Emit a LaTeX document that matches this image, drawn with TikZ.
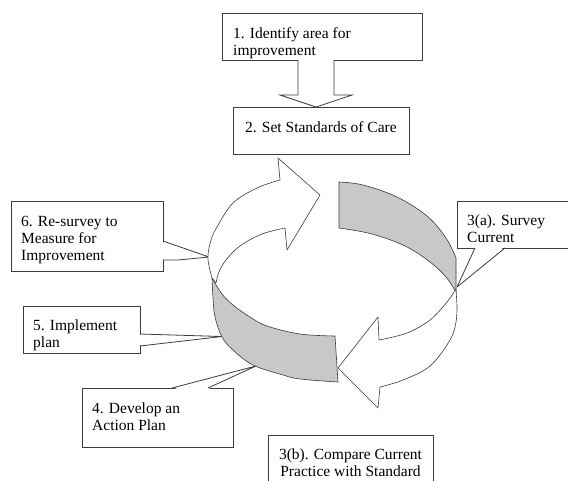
\documentclass[tikz,border=0pt]{standalone}
\usepackage{fontspec}
\setmainfont{Liberation Serif}
\definecolor{ringgray}{RGB}{200,200,200}
\definecolor{edge}{RGB}{60,60,60}
\begin{document}
\begin{tikzpicture}[x=1pt,y=-1pt,
  box/.style={draw=edge, line width=0.8pt, fill=white, inner sep=0pt, anchor=north west},
  txt/.style={inner sep=0pt, anchor=north west, align=left, font=\fontsize{15.5}{16.8}\selectfont},
  ring/.style={draw=edge, line width=0.6pt, line join=round},
  callout/.style={draw=edge, line width=0.8pt, line join=round},
  hole/.style={fill=white},
  blockarrow/.style={draw=edge, line width=0.8pt, fill=white, line join=miter}
]
\useasboundingbox (0,0) rectangle (568,480);

% ---------- boxes ----------
\node[box, minimum width=200pt, minimum height=47pt] (b1) at (222,13) {};
\node[box, minimum width=176pt, minimum height=47pt] (b2) at (233,107) {};
\node[box, minimum width=152pt, minimum height=70pt] (b6) at (11,201) {};
\node[box, minimum width=117pt, minimum height=47pt] (b5) at (23,306) {};
\node[box, minimum width=151pt, minimum height=59pt] (b4) at (82,388) {};
\node[box, minimum width=116pt, minimum height=47pt] (b3a) at (457,201) {};
\node[box, minimum width=165pt, minimum height=52pt] (b3b) at (268,435) {};

% ---------- block arrow 1 -> 2 ----------
\draw[blockarrow] (298,60) -- (298,95) -- (280,95) -- (316,107) -- (352,95) -- (334,95) -- (334,60);

% ---------- callout pointers ----------
\coordinate (t6) at (209,257);
\fill[hole] (161.5,241.6) -- (t6) -- (178,259.6) -- (161.5,259.6) -- cycle;
\draw[callout] (163,241) -- (t6) -- (178,260) -- (163,260);

\coordinate (t5) at (222,336.5);
\fill[hole] (138.5,334.6) -- (t5) -- (138.5,345.4) -- cycle;
\draw[callout] (140,334) -- (t5) -- (140,346);

\coordinate (t4) at (256,366);
\fill[hole] (172.6,389.5) -- (t4) -- (207.4,389.5) -- cycle;
\draw[callout] (172,388) -- (t4) -- (208,388);

\coordinate (t3a) at (457,287);
\fill[hole] (475.6,246.5) -- (t3a) -- (504.4,246.5) -- cycle;
\draw[callout] (475,248) -- (t3a) -- (505,248);

% ---------- ring ----------
% back gray band
\filldraw[ring, fill=ringgray]
  plot[smooth, tension=0.6] coordinates {(339,182) (363,185) (397,197) (427,216) (446,238) (456,258)}
  -- (456,292)
  -- plot[smooth, tension=0.6] coordinates {(456,292) (446,277) (430,262) (405,246) (372,234) (339,228)}
  -- cycle;
% lower-right white arrow
\filldraw[ring, fill=white]
  (456,289) -- (457,305)
  -- plot[smooth, tension=0.6] coordinates {(457,305) (456,322) (450,340) (430,366) (403,380) (380,387)}
  -- (378,408) -- (338,368) -- (378,317) -- (379,340)
  -- plot[smooth, tension=0.6] coordinates {(379,340) (407,333) (430,320) (447,302) (456,289)}
  -- cycle;
% front gray band
\filldraw[ring, fill=ringgray]
  plot[smooth, tension=0.6] coordinates {(212,278) (222,294) (233,305) (250,317) (267,326) (300,334) (335,336)}
  -- (338,382)
  -- plot[smooth, tension=0.6] coordinates {(338,382) (300,379) (283,375) (253,365) (233,350) (222,337) (215,317) (213,298) (212,278)}
  -- cycle;
% upper-left white arrow
\filldraw[ring, fill=white]
  plot[smooth, tension=0.6] coordinates {(212,278) (209,266) (208,255) (211,240) (217,227) (233,203) (257,188) (280,180)}
  -- (278,158) -- (320,195) -- (287,250) -- (285,228)
  -- plot[smooth, tension=0.6] coordinates {(285,228) (262,234) (240,246) (226,260) (219,272) (216,283)}
  -- cycle;

% ---------- texts ----------
\node[txt] (l1) at (233,27.3) {1. Identify area for\\improvement};
\node[txt] (l2) at (245,121.3) {2. Set Standards of Care};
\node[txt] (l6) at (21,216.3) {6. Re-survey to\\Measure for\\Improvement};
\node[txt] (l5) at (33,319.3) {5. Implement\\plan};
\node[txt] (l4) at (92,402.3) {4. Develop an\\Action Plan};
\node[txt] (l3a) at (467,214.3) {3(a). Survey\\Current};
\node[txt, anchor=north, align=center] (l3b) at (350.5,448.3) {3(b). Compare Current\\Practice with Standard};
\end{tikzpicture}
\end{document}
